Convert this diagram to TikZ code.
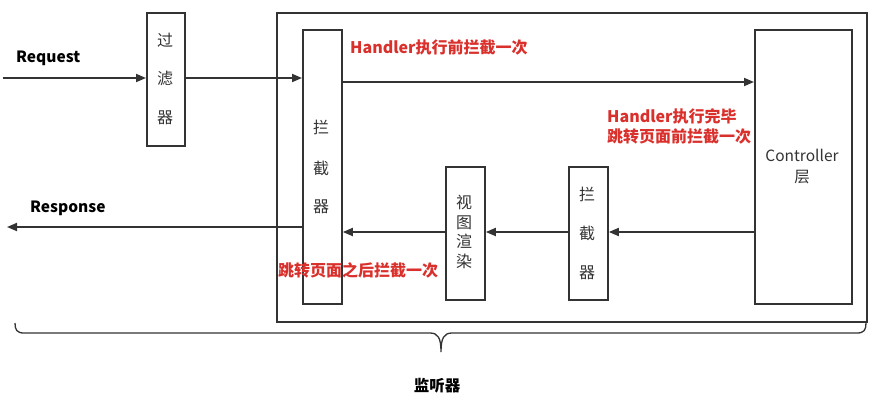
\documentclass[tikz,border=0pt]{standalone}
\usepackage{fontspec}
\setmainfont{Noto Sans CJK SC}
\usetikzlibrary{arrows.meta}
\definecolor{ink}{HTML}{333333}
\definecolor{redtxt}{HTML}{D9302C}
\tikzset{
  box/.style={draw=ink,line width=1.8pt,inner sep=0pt,anchor=north west},
  conn/.style={draw=ink,line width=1.8pt,-{Triangle[length=10pt,width=8pt]}},
  boxtxt/.style={text=ink,font=\fontsize{16}{15}\selectfont,inner sep=0pt},
  lbl/.style={text=black,font=\fontsize{15.5}{16}\selectfont\bfseries,inner sep=0pt,anchor=west},
  redlbl/.style={text=redtxt,font=\fontsize{16}{20}\selectfont\bfseries,inner sep=0pt,anchor=west,align=left}
}
\begin{document}
\begin{tikzpicture}[x=1pt,y=-1pt]
\useasboundingbox (0,0) rectangle (880,407);
% boxes
\node[box,minimum width=590pt,minimum height=309pt] (outer) at (276,12) {};
\node[box,minimum width=38pt,minimum height=133pt] (filter) at (146,12) {};
\node[box,minimum width=39pt,minimum height=274pt] (intL) at (302,29) {};
\node[box,minimum width=97pt,minimum height=274pt] (ctrl) at (754,29) {};
\node[box,minimum width=39pt,minimum height=133pt] (view) at (445,166) {};
\node[box,minimum width=39pt,minimum height=133pt] (intR) at (568,166) {};
% box texts
\node[boxtxt] (f1) at (165,40) {过};
\node[boxtxt] (f2) at (165,78) {滤};
\node[boxtxt] (f3) at (165,118) {器};
\node[boxtxt] (l1) at (321,127) {拦};
\node[boxtxt] (l2) at (321,168) {截};
\node[boxtxt] (l3) at (321,207) {器};
\node[boxtxt] (r1) at (587,194) {拦};
\node[boxtxt] (r2) at (587,233) {截};
\node[boxtxt] (r3) at (587,273) {器};
\node[boxtxt,align=center,font=\fontsize{16}{19.5}\selectfont] (v1) at (464,232) {视\\图\\渲\\染};
\node[boxtxt,align=center,font=\fontsize{15.5}{21}\selectfont] (c1) at (802,167) {Controller\\层};
% coordinates
\coordinate (reqS) at (3,78);
\coordinate (resE) at (7,227);
% connectors
\draw[conn] (reqS) -- (filter.west |- reqS);
\draw[conn] (filter.east |- reqS) -- (intL.west |- reqS);
\draw[conn] ([yshift=-53pt]intL.north east) -- ([yshift=-53pt]ctrl.north west);
\draw[conn] ([yshift=-203pt]ctrl.north west) -- ([yshift=-66pt]intR.north east);
\draw[conn] ([yshift=-66pt]intR.north west) -- ([yshift=-66pt]view.north east);
\draw[conn] ([yshift=-66pt]view.north west) -- ([yshift=-203pt]intL.north east);
\draw[conn] ([yshift=-198pt]intL.north west) -- (resE);
% labels
\node[lbl] (req) at (16,58) {Request};
\node[lbl] (res) at (30,208) {Response};
\node[redlbl] (h1) at (350,47) {Handler执行前拦截一次};
\node[redlbl] (h2) at (607,126) {Handler执行完毕\\跳转页面前拦截一次};
\node[redlbl] (h3) at (278,270) {跳转页面之后拦截一次};
% brace
\draw[ink,line width=1.3pt] (15,323) .. controls (15,330) and (17,333) .. (24,333)
  -- (430,333) .. controls (438,333) and (441,338) .. (441,352)
  .. controls (441,338) and (444,333) .. (452,333)
  -- (857,333) .. controls (864,333) and (866,330) .. (866,323);
\node[text=black,font=\fontsize{15.5}{16}\selectfont\bfseries,inner sep=0pt] (lis) at (437,386) {监听器};
\end{tikzpicture}
\end{document}
